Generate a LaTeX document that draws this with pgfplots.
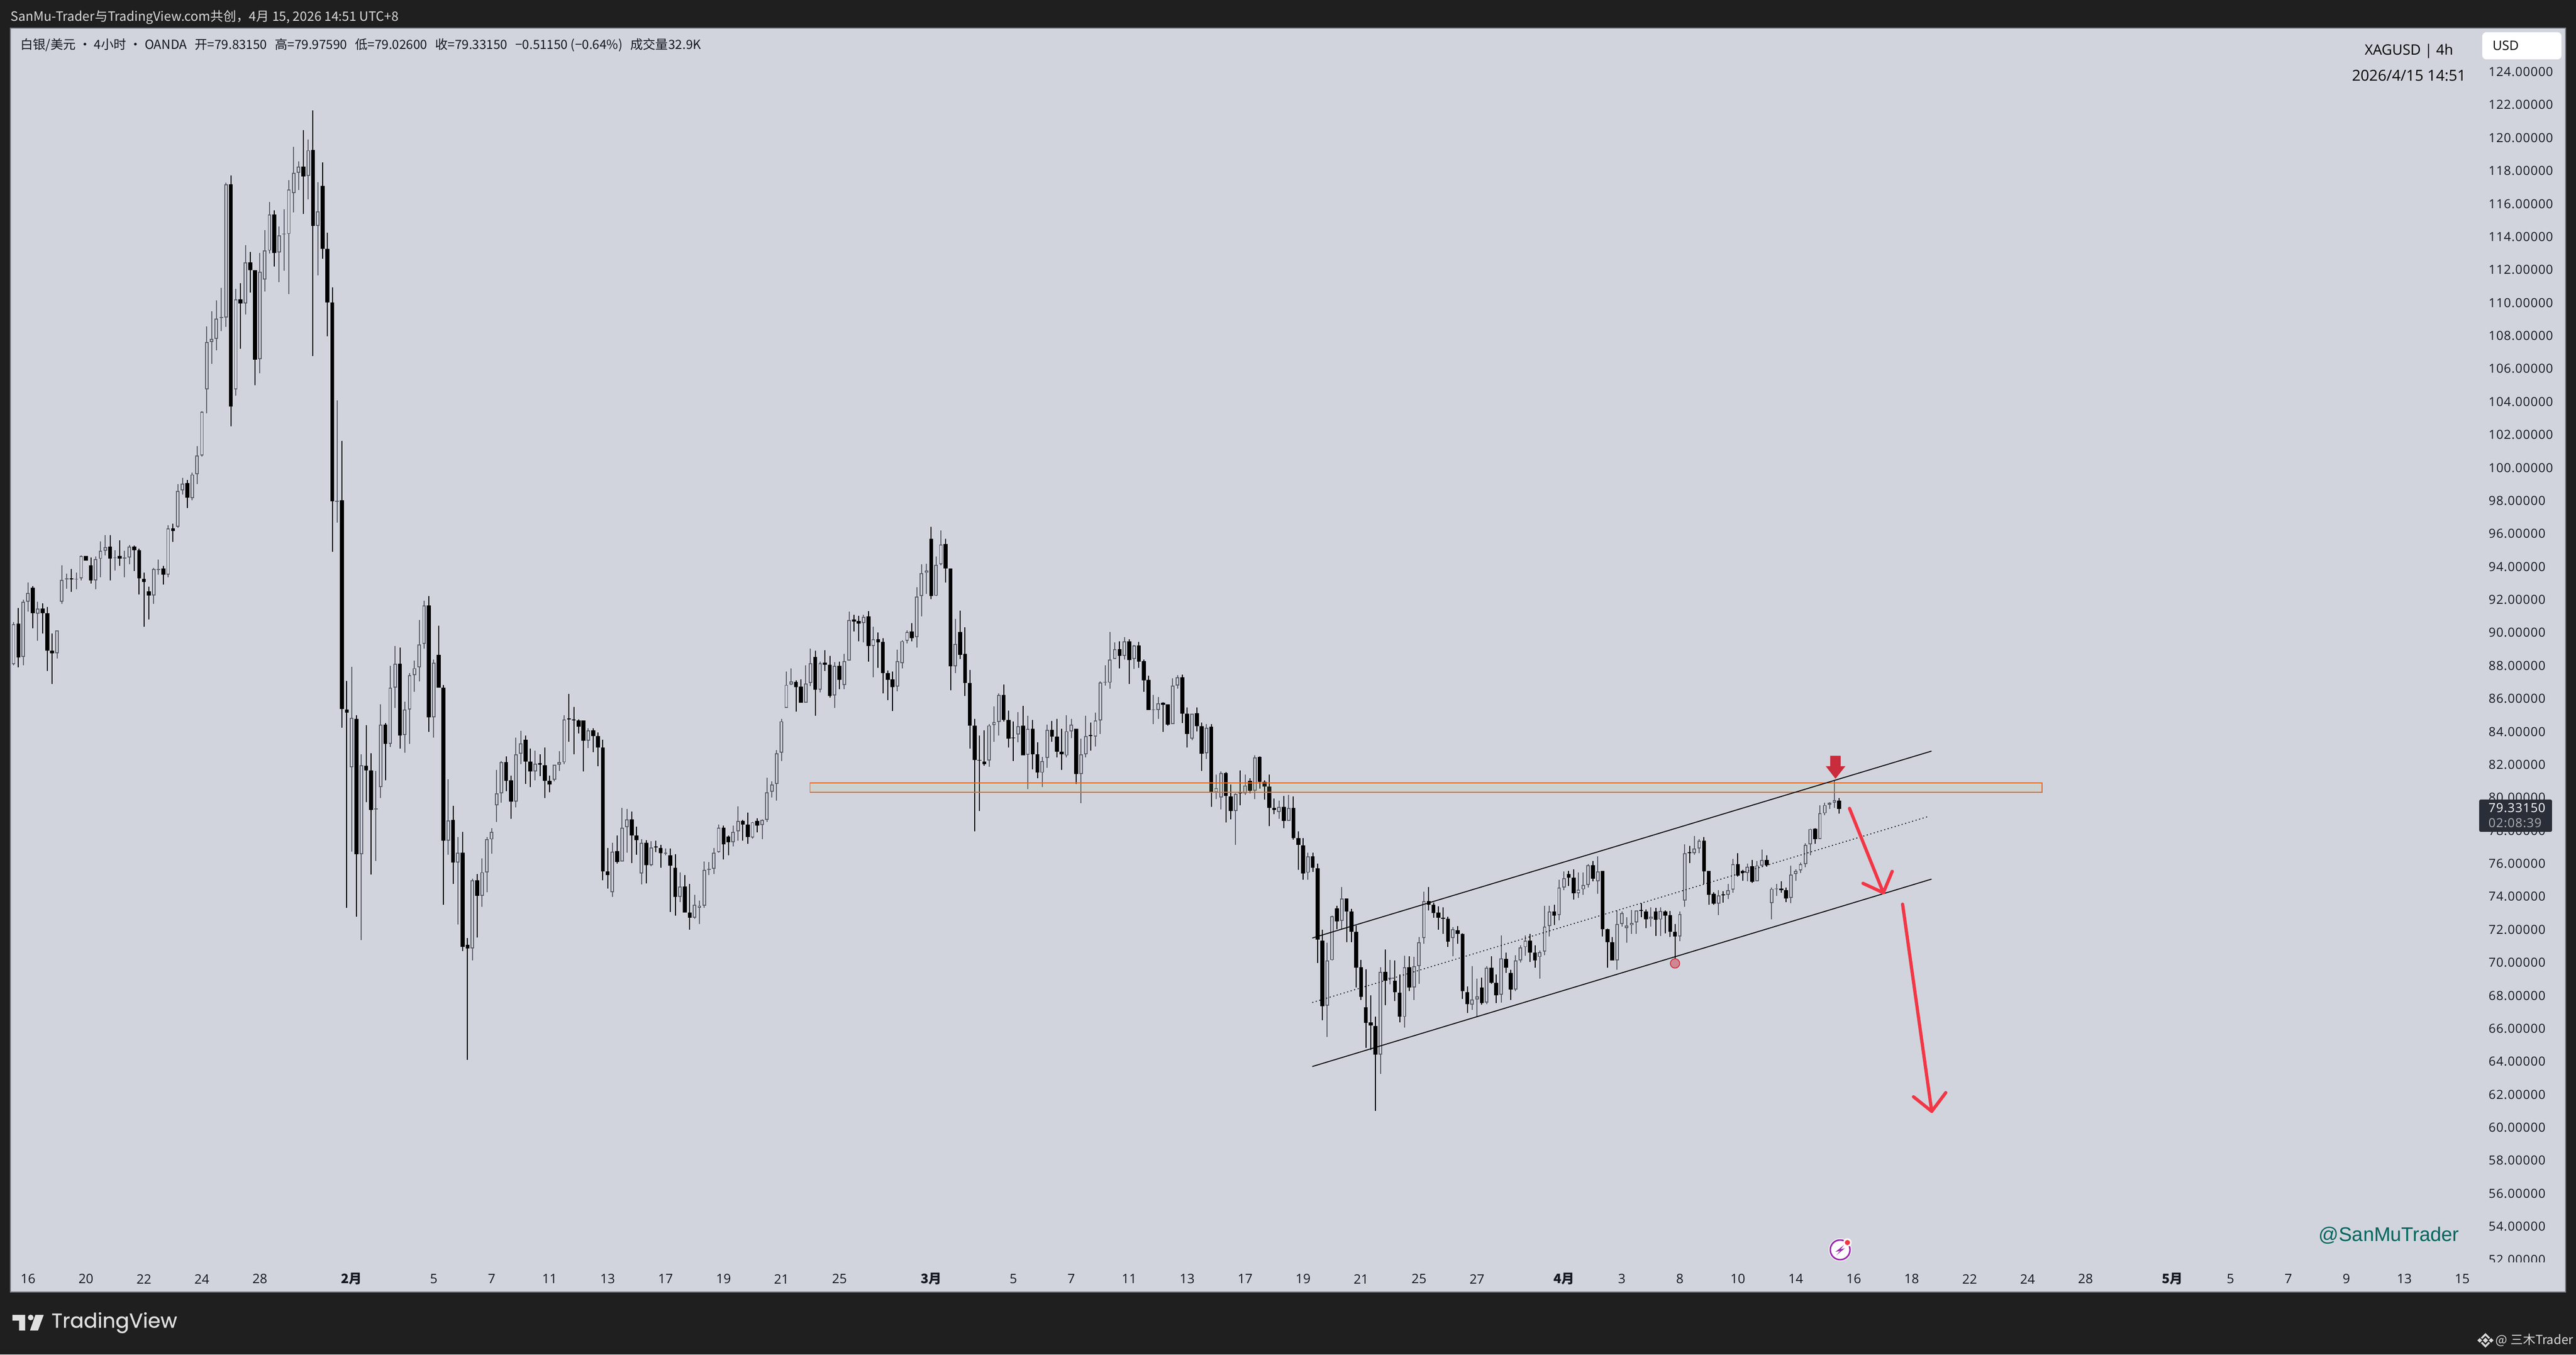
\documentclass[border=0pt]{standalone}
\usepackage{pgfplots}
\usepackage{pgfplotstable}
\usepackage{fontspec}
\pgfplotsset{compat=1.18}
\setmainfont{Open Sans}
\newfontfamily\cjk{Noto Sans CJK SC}
\newfontfamily\tvnum[LetterSpace=4]{Open Sans}
\newfontfamily\lib{Liberation Sans}
\newfontfamily\pop[FakeBold=0.5]{Poppins}
\definecolor{dark}{HTML}{1F1F1F}
\definecolor{pane}{HTML}{D1D4DC}
\definecolor{frame}{HTML}{787B86}
\definecolor{hollow}{HTML}{5D606B}
\definecolor{ink}{HTML}{131722}
\definecolor{zoneb}{HTML}{E2692C}
\definecolor{zonef}{HTML}{A9CD8C}
\definecolor{arrowred}{HTML}{F23645}
\definecolor{bigred}{HTML}{C92C3C}
\definecolor{teal}{HTML}{00665F}
\definecolor{boxc}{HTML}{2A2E39}
\definecolor{lbl}{HTML}{D9D9D9}
\pgfplotstableread{
x d t b h l
0 0 90.52 88.08 90.64 88.03
1 1 90.54 88.51 91.51 87.91
2 0 91.87 88.54 91.99 88.01
3 0 92.40 91.87 93.03 91.29
4 1 92.74 91.19 92.81 90.27
5 0 91.46 91.14 91.89 89.50
6 1 91.46 91.19 91.77 89.96
7 1 91.19 88.92 91.56 87.69
8 1 88.90 88.75 89.94 86.90
9 0 90.13 88.75 90.15 88.44
10 0 93.20 91.89 94.09 91.75
11 0 93.29 93.24 93.58 92.66
12 1 93.29 93.24 93.87 92.47
13 0 93.27 93.22 93.65 92.64
14 0 94.65 93.29 94.67 93.17
15 1 94.65 94.38 94.65 94.38
16 1 94.09 93.17 94.55 92.98
17 0 94.45 93.17 94.62 92.64
18 0 94.96 94.48 95.54 93.37
19 0 95.20 94.96 95.90 94.69
20 1 95.23 94.50 95.90 93.17
21 0 94.57 94.52 95.01 93.78
22 1 94.65 94.48 95.59 94.04
23 0 94.55 94.48 94.98 93.37
24 0 95.23 94.57 95.32 94.16
25 1 95.23 95.01 95.27 93.75
26 1 95.01 93.29 95.10 92.33
27 1 93.27 93.08 93.65 90.35
28 1 92.52 92.26 92.79 90.81
29 0 93.85 92.26 93.94 91.75
30 0 93.87 93.80 94.43 93.53
31 1 93.90 93.53 94.04 92.91
32 0 96.31 93.53 96.50 93.37
33 1 96.31 96.17 96.60 95.51
34 0 98.60 96.43 99.02 96.36
35 0 99.04 98.63 99.38 98.36
36 1 99.06 98.19 99.26 97.57
37 0 99.59 98.17 99.69 98.02
38 0 100.75 99.62 101.31 99.02
39 0 103.39 100.75 103.43 100.68
40 0 107.61 104.76 108.58 103.31
41 0 107.80 107.61 109.49 106.31
42 0 109.03 107.80 110.14 107.13
43 0 109.13 109.08 110.89 108.29
44 0 117.17 109.11 117.29 108.55
45 1 117.17 103.72 117.73 102.52
46 0 110.22 104.76 110.84 104.37
47 1 110.22 109.95 111.18 107.22
48 0 112.46 109.97 113.50 109.28
49 1 112.46 111.98 113.09 110.63
50 1 111.98 106.54 111.98 105.00
51 0 111.88 106.57 113.02 105.73
52 0 113.16 111.40 114.42 110.68
53 0 115.34 113.16 116.11 112.99
54 1 115.34 113.02 115.60 112.20
55 0 114.10 113.04 114.64 111.25
56 0 114.20 114.15 115.67 111.95
57 0 116.86 114.17 117.44 110.53
58 0 117.89 116.66 119.46 115.48
59 0 118.26 117.89 118.57 116.83
60 1 118.26 117.65 120.45 115.38
61 0 119.25 117.68 119.90 116.28
62 1 119.27 114.66 121.66 106.77
63 0 115.55 114.66 117.31 111.67
64 1 117.10 113.26 118.52 112.68
65 1 113.26 110.02 114.25 107.97
66 1 110.02 97.97 110.94 94.89
67 0 98.00 97.93 104.08 96.67
68 1 98.02 85.37 101.62 84.24
69 1 85.35 85.15 87.08 73.33
70 0 84.84 81.83 87.94 76.72
71 1 84.78 76.58 84.98 72.77
72 0 81.96 76.58 82.63 71.36
73 1 81.94 81.65 84.40 79.73
74 1 81.65 79.26 82.69 75.34
75 0 79.35 79.28 81.61 76.16
76 0 84.44 80.64 85.66 79.97
77 1 84.44 83.25 84.51 81.06
78 0 86.68 83.25 87.99 83.07
79 0 88.12 86.68 89.18 85.44
80 1 88.12 83.78 89.09 82.98
81 0 85.33 83.80 85.82 82.72
82 0 87.41 85.33 87.54 83.25
83 0 87.85 87.43 88.32 86.41
84 0 89.29 87.90 90.78 87.06
85 0 91.64 89.32 91.93 89.03
86 1 91.66 84.86 92.22 83.98
87 0 88.19 84.86 88.36 83.65
88 1 88.67 86.68 90.42 86.68
89 1 86.68 77.38 86.84 73.50
90 0 78.62 77.38 81.12 76.54
91 1 78.64 76.05 79.51 74.77
92 0 76.65 76.07 77.60 72.31
93 1 76.65 70.94 77.93 70.69
94 1 71.09 70.87 71.49 64.09
95 0 74.99 70.87 75.10 70.12
96 1 74.99 74.06 75.37 71.51
97 0 75.48 74.06 76.32 73.37
98 0 77.47 75.48 77.60 74.26
99 0 77.93 77.47 78.16 76.61
100 0 80.26 79.53 81.68 78.53
101 0 82.14 80.26 82.23 79.68
102 1 82.14 81.01 82.50 80.39
103 1 81.06 79.77 81.34 78.71
104 0 82.63 79.77 83.65 79.42
105 0 83.29 82.65 84.05 82.03
106 1 83.51 82.19 83.78 80.83
107 1 82.19 81.59 82.98 80.64
108 0 82.07 81.59 82.85 81.06
109 1 82.10 81.99 82.63 81.30
110 1 81.96 81.01 83.05 79.97
111 1 81.01 80.79 81.34 80.33
112 0 82.01 81.08 82.01 80.99
113 0 82.14 82.01 82.83 81.61
114 0 84.75 82.14 84.98 82.03
115 1 84.80 84.73 86.30 83.38
116 1 84.73 84.69 85.51 82.63
117 1 84.69 84.31 84.75 83.89
118 1 84.69 83.45 84.69 81.59
119 0 84.07 83.45 84.22 83.00
120 1 84.09 83.74 84.22 82.76
121 1 83.74 83.05 83.96 81.90
122 1 83.05 75.52 83.51 74.99
123 1 75.54 75.30 76.94 74.48
124 0 76.74 74.28 77.27 73.99
125 1 76.76 76.10 77.71 76.01
126 0 78.18 76.12 79.37 76.12
127 0 78.69 78.20 79.31 76.65
128 1 78.69 77.71 79.15 76.03
129 1 77.71 77.42 78.24 76.54
130 0 77.27 75.39 77.47 74.75
131 1 77.27 75.92 77.42 74.79
132 0 76.98 75.92 77.36 75.85
133 1 77.05 76.98 77.38 76.69
134 1 76.96 76.63 77.14 75.76
135 0 76.65 76.61 76.92 76.50
136 1 76.50 75.87 76.92 73.06
137 1 75.76 73.97 76.56 72.84
138 0 74.61 73.97 75.48 73.68
139 1 74.61 73.02 75.30 73.02
140 1 73.02 72.73 74.77 72.00
141 0 73.50 72.73 74.10 72.66
142 0 73.46 73.33 73.77 72.33
143 0 75.61 73.46 76.14 73.33
144 0 75.70 75.61 76.10 75.32
145 0 76.65 75.70 76.94 75.37
146 0 78.18 76.69 78.36 76.65
147 1 78.18 77.18 78.31 76.27
148 1 77.65 77.29 77.71 76.50
149 0 77.93 77.29 78.31 77.05
150 0 78.58 77.96 79.48 77.38
151 1 78.60 78.36 78.64 77.38
152 1 78.36 77.60 79.11 77.20
153 0 78.51 77.58 78.53 77.51
154 1 78.58 78.31 78.75 77.91
155 0 78.64 78.33 78.69 77.49
156 0 80.33 78.64 81.21 78.53
157 0 80.79 80.35 80.99 80.02
158 0 82.69 80.83 82.89 79.82
159 0 84.63 82.73 84.79 82.22
160 0 86.84 85.43 87.66 85.43
161 0 87.04 86.86 87.82 86.82
162 1 87.02 86.71 87.11 85.21
163 1 86.73 85.74 87.18 85.74
164 0 86.91 85.75 88.04 85.74
165 0 88.16 86.95 89.05 86.75
166 1 88.54 86.53 88.91 84.96
167 0 88.16 86.55 88.25 86.37
168 1 88.18 88.05 88.94 87.67
169 1 88.05 86.17 88.58 86.08
170 0 87.98 86.21 88.22 85.43
171 1 87.98 87.15 88.25 86.57
172 0 88.29 86.84 88.72 86.57
173 0 90.77 88.31 91.28 88.31
174 1 90.81 90.68 91.10 90.08
175 1 90.72 90.55 91.03 89.49
176 0 90.97 90.59 91.08 89.41
177 1 90.99 89.20 91.31 88.24
178 0 89.59 89.20 90.35 87.29
179 1 89.61 89.41 90.01 87.87
180 1 89.45 87.55 89.68 86.31
181 1 87.55 87.15 87.71 85.92
182 1 87.18 86.70 87.66 85.25
183 0 88.29 86.73 88.98 86.46
184 0 89.49 88.14 89.54 87.85
185 0 90.05 89.52 90.14 89.34
186 1 90.07 89.68 90.59 89.49
187 0 92.20 89.72 92.76 89.10
188 0 93.62 92.22 94.16 90.99
189 0 93.78 93.63 94.18 92.35
190 1 95.70 92.22 96.42 92.04
191 0 94.12 92.24 94.61 92.22
192 0 95.35 94.14 96.19 94.09
193 1 95.37 93.89 95.70 93.05
194 1 93.91 87.95 93.91 86.51
195 0 89.32 87.95 90.83 87.55
196 1 90.03 88.65 91.35 88.40
197 1 88.72 86.95 90.32 86.17
198 1 86.95 84.36 87.75 82.98
199 1 84.36 82.27 84.77 77.96
200 1 82.27 82.24 83.76 79.20
201 1 82.18 82.04 84.09 81.93
202 0 84.38 82.26 84.47 81.86
203 0 84.58 84.39 85.52 83.38
204 0 86.22 84.58 86.33 83.76
205 1 86.22 84.72 86.86 84.61
206 1 84.72 83.58 85.28 83.04
207 1 83.65 83.60 84.61 82.22
208 0 84.32 83.83 85.19 83.34
209 1 84.36 82.58 85.57 82.58
210 0 84.16 82.60 84.97 80.52
211 1 84.18 82.62 84.72 81.71
212 1 82.64 81.51 83.34 81.17
213 0 82.22 81.51 82.47 80.64
214 0 84.10 82.42 84.43 81.80
215 1 84.12 83.69 84.65 83.38
216 1 83.69 82.80 84.77 82.44
217 1 82.80 82.62 84.18 81.68
218 0 84.03 82.55 84.99 82.44
219 0 84.43 84.03 84.76 83.62
220 1 84.16 81.44 84.18 80.83
221 0 82.62 81.44 83.58 79.67
222 0 83.74 82.62 84.97 82.44
223 1 83.80 83.74 84.56 82.84
224 0 84.67 83.71 85.16 83.11
225 0 86.97 84.68 87.04 83.87
226 0 87.00 86.97 88.04 86.79
227 0 88.38 86.97 90.03 86.60
228 0 89.01 88.40 89.41 88.40
229 1 89.01 88.60 89.49 87.84
230 0 89.47 88.60 89.72 88.36
231 1 89.47 88.33 89.61 86.89
232 0 89.23 88.40 89.27 87.80
233 1 89.23 88.24 89.45 87.87
234 1 88.27 87.11 88.38 86.42
235 1 87.15 85.30 87.40 85.30
236 0 85.34 85.30 86.22 84.47
237 0 85.72 85.30 86.10 84.79
238 1 85.75 85.63 85.77 84.00
239 1 85.66 84.43 85.66 84.36
240 0 86.79 84.45 87.24 84.45
241 0 87.31 86.79 87.42 86.60
242 1 87.31 85.10 87.46 84.52
243 1 85.10 83.85 85.46 83.04
244 0 85.10 83.58 85.10 83.49
245 1 85.12 84.34 85.46 84.01
246 1 84.34 82.67 84.56 81.62
247 0 84.25 82.69 84.47 82.35
248 1 84.29 80.32 84.47 79.45
249 0 80.59 80.32 81.39 79.90
250 0 81.48 80.01 81.59 79.29
251 1 81.48 80.10 81.55 78.49
252 1 80.08 79.18 80.81 78.69
253 0 80.23 79.20 80.26 77.13
254 1 80.30 80.25 81.66 79.54
255 0 80.74 80.26 81.41 80.16
256 1 81.01 80.41 81.17 80.26
257 0 82.44 80.43 82.56 79.90
258 1 82.46 80.97 82.49 80.55
259 1 80.97 80.68 81.04 79.87
260 1 80.66 79.39 81.41 78.27
261 1 79.39 79.25 79.96 79.00
262 0 79.43 79.14 79.83 78.72
263 1 79.43 78.58 80.10 78.14
264 0 79.38 78.60 80.17 78.58
265 1 79.39 77.55 80.08 77.46
266 1 77.55 77.13 77.95 75.61
267 1 77.12 75.41 77.54 75.02
268 0 76.43 75.45 76.67 75.02
269 1 76.43 75.75 76.67 75.51
270 1 75.73 71.38 76.01 69.99
271 1 71.34 67.36 71.98 66.51
272 0 70.13 67.38 71.20 65.50
273 0 72.81 70.15 72.85 70.13
274 1 73.29 72.51 73.45 72.01
275 0 73.88 72.53 74.58 72.01
276 1 73.90 73.11 73.90 71.24
277 1 73.11 71.88 73.27 71.24
278 1 71.88 69.69 72.25 68.48
279 1 69.73 67.92 70.17 67.72
280 1 67.28 66.35 69.59 64.84
281 1 66.37 66.19 68.02 64.70
282 1 66.17 64.42 66.71 61.02
283 0 69.43 64.42 69.73 63.25
284 1 69.43 68.89 70.80 67.42
285 0 69.09 68.99 70.17 68.68
286 1 68.91 68.20 70.13 67.66
287 1 68.18 66.71 69.29 66.39
288 0 69.73 66.71 70.42 66.05
289 1 69.73 68.48 70.38 68.28
290 0 69.79 68.48 70.34 67.72
291 0 71.24 69.79 71.54 68.72
292 0 73.72 71.50 74.30 71.14
293 1 73.72 73.51 74.58 73.15
294 1 73.51 73.01 73.62 72.71
295 1 73.05 72.73 73.43 71.98
296 1 72.73 72.67 73.35 71.74
297 1 72.65 71.28 72.79 70.94
298 0 72.01 71.48 72.15 70.40
299 1 71.95 71.74 72.21 71.14
300 1 71.74 68.26 71.78 67.80
301 1 68.22 67.48 68.56 66.95
302 0 67.76 67.46 69.77 67.12
303 0 67.94 67.78 69.03 66.71
304 1 68.50 67.56 69.09 67.44
305 0 69.69 67.58 69.77 67.48
306 1 69.69 68.76 70.38 68.72
307 1 68.76 68.02 69.29 67.56
308 0 70.27 68.04 71.64 67.58
309 1 70.23 69.69 70.60 69.37
310 1 69.39 68.36 69.57 67.72
311 0 70.13 68.36 70.44 68.28
312 0 70.92 70.13 71.04 70.01
313 0 71.34 70.94 71.64 70.42
314 1 71.34 70.60 71.74 70.05
315 1 70.60 70.13 71.04 69.69
316 0 70.64 70.34 70.74 69.03
317 0 72.19 70.66 73.45 70.46
318 0 73.09 72.21 73.45 71.58
319 1 73.11 72.85 73.51 72.29
320 0 74.56 72.89 75.02 72.55
321 0 75.12 74.56 75.53 74.40
322 1 75.37 75.14 75.57 74.66
323 1 75.14 74.20 75.67 73.82
324 0 74.42 74.20 75.45 73.92
325 0 74.70 74.44 75.47 74.10
326 0 75.91 74.70 75.97 74.56
327 1 75.91 75.08 76.17 74.92
328 0 75.53 74.92 76.45 74.16
329 1 75.57 72.03 75.57 71.58
330 1 72.01 71.24 72.05 69.69
331 1 71.24 70.13 71.54 70.13
332 0 72.35 70.13 73.15 69.57
333 0 72.99 72.35 73.09 72.19
334 0 72.25 72.09 72.75 71.20
335 0 72.41 72.27 73.19 71.74
336 0 73.15 72.45 73.15 71.74
337 1 73.19 73.13 73.60 72.75
338 1 73.11 72.63 73.23 72.09
339 0 72.79 72.65 73.35 72.19
340 1 73.11 72.59 73.31 71.62
341 0 73.13 72.61 73.35 71.60
342 1 73.11 72.85 73.15 71.78
343 1 72.89 71.88 73.13 71.54
344 1 71.88 71.58 72.33 70.13
345 0 72.95 71.58 73.11 71.30
346 0 76.63 73.76 77.18 73.39
347 1 76.69 76.63 77.06 76.03
348 0 76.92 76.63 77.68 76.53
349 0 77.40 76.92 77.48 76.63
350 1 77.40 75.53 77.62 74.76
351 1 75.55 74.10 75.55 73.51
352 1 74.16 73.56 74.26 73.51
353 0 74.08 73.58 74.40 72.89
354 1 74.15 74.08 74.32 73.64
355 0 74.40 74.10 74.77 73.87
356 0 75.96 74.42 76.29 74.24
357 1 75.96 75.29 76.64 75.22
358 1 75.56 75.42 75.61 74.97
359 0 75.82 75.43 76.00 74.92
360 1 75.84 74.90 76.22 74.84
361 0 75.89 74.92 76.17 74.92
362 0 76.21 75.89 76.85 75.77
363 1 76.22 75.92 76.50 75.82
364 0 74.47 73.61 74.55 72.61
365 0 74.50 74.48 74.77 74.03
366 1 74.48 74.38 74.92 74.24
367 1 74.39 73.90 74.56 73.68
368 0 75.35 73.93 75.87 73.59
369 0 75.56 75.37 75.64 74.95
370 0 75.96 75.59 76.08 75.42
371 0 77.15 75.98 77.22 75.77
372 0 78.10 77.16 78.13 76.52
373 1 78.11 77.50 78.14 77.19
374 0 79.05 77.50 79.55 77.47
375 0 79.55 79.05 79.68 78.95
376 0 79.70 79.58 79.74 79.32
377 0 79.84 79.69 81.05 79.38
378 1 79.83 79.33 79.98 79.03
}\candles
\begin{document}
\begin{tikzpicture}
\fill[dark] (0,0) rectangle (990pt,520.4pt);
\begin{axis}[
  at={(4pt,24pt)}, anchor=south west,
  width=982pt, height=485.6pt, scale only axis,
  xmin=-0.65, xmax=528.4, ymin=50.03, ymax=126.65,
  axis background/.style={fill=pane},
  axis line style={draw=frame,line width=0.4pt},
  major tick length=0pt,
  ytick={52,54,...,124},
  xtick={3,15,27,39,51,70,87,99,111,123,135,147,159,171,190,207,219,231,243,255,267,279,291,303,321,333,345,357,369,381,393,405,417,429,447,459,471,483,495,507},
  xticklabels={16,20,22,24,28,\textbf{\cjk 2月},5,7,11,13,17,19,21,25,\textbf{\cjk 3月},5,7,11,13,17,19,21,25,27,\textbf{\cjk 4月},3,8,10,14,16,18,22,24,28,\textbf{\cjk 5月},5,7,9,13,15},
  yticklabel pos=right,
  yticklabel style={anchor=west,xshift=-29.8pt,inner sep=0pt,text=ink,font=\tvnum\fontsize{4.8}{5.8}\selectfont,
    /pgf/number format/.cd,fixed,fixed zerofill,precision=5,assume math mode=true,1000 sep={}},
  xticklabel style={anchor=center,yshift=5pt,inner sep=0pt,text=ink,font=\fontsize{5}{6}\selectfont},
  xticklabel pos=lower,
  candle/.style={draw=none,no markers,forget plot,error bars/.cd,y dir=plus,y explicit,error mark=none},
]
% gray wicks, gray bodies, hollow interior
\addplot[candle,error bar style={draw=hollow,line width=0.4pt}]
  table[x=x,y expr=\thisrow{l},y error plus expr=\thisrow{h}-\thisrow{l},restrict expr to domain={\thisrow{d}}{0:0}]{\candles};
\addplot[candle,error bar style={draw=hollow,line width=1.36pt}]
  table[x=x,y expr=\thisrow{b},y error plus expr=\thisrow{t}-\thisrow{b},restrict expr to domain={\thisrow{d}}{0:0}]{\candles};
\addplot[candle,error bar style={draw=pane,line width=0.62pt}]
  table[x=x,y expr=\thisrow{b}+0.06,y error plus expr={max(\thisrow{t}-\thisrow{b}-0.12,0)},restrict expr to domain={\thisrow{d}}{0:0}]{\candles};
% black wicks and bodies
\addplot[candle,error bar style={draw=black,line width=0.4pt}]
  table[x=x,y expr=\thisrow{l},y error plus expr=\thisrow{h}-\thisrow{l},restrict expr to domain={\thisrow{d}}{1:1}]{\candles};
\addplot[candle,error bar style={draw=black,line width=1.52pt}]
  table[x=x,y expr=\thisrow{b},y error plus expr=\thisrow{t}-\thisrow{b},restrict expr to domain={\thisrow{d}}{1:1}]{\candles};
% resistance zone
\addplot[draw=zoneb,line width=0.36pt,fill=zonef,fill opacity=0.15,forget plot] coordinates {(164.9,80.33)(420,80.33)(420,80.90)(164.9,80.90)} --cycle;
% channel
\addplot[black,line width=0.36pt,forget plot] coordinates {(268.9,71.49)(397.1,82.82)};
\addplot[black,line width=0.36pt,forget plot] coordinates {(268.9,63.70)(397.1,75.06)};
\addplot[black,line width=0.34pt,dash pattern=on 0.4pt off 1pt,forget plot] coordinates {(268.9,67.58)(396.7,78.88)};
% swing-low marker
\addplot[only marks,mark=*,mark size=1.8pt,mark options={draw=bigred,fill=bigred!45!pane,line width=0.3pt},forget plot] coordinates {(344,69.95)};
\end{axis}
\begin{scope}[x=0.2pt,y=-0.2pt,shift={(0,520.4pt)}]
  % texts
  \node[anchor=west,inner sep=0,text=lbl,font=\cjk\fontsize{4.95}{5.9}\selectfont] at (20,33) {SanMu-Trader与TradingView.com共创，4月 15, 2026 14:51 UTC+8};
  \node[anchor=west,inner sep=0,text=ink,font=\cjk\fontsize{4.86}{5.8}\selectfont] at (38,87) {白银/美元 · 4小时 · OANDA\hspace{3pt}开=79.83150\hspace{3pt}高=79.97590\hspace{3pt}低=79.02600\hspace{3pt}收=79.33150\hspace{3pt}−0.51150 (−0.64\%)\hspace{3pt}成交量32.9K};
  \node[anchor=center,inner sep=0,text=black,font=\fontsize{5.5}{6.5}\selectfont] at (4629,98) {XAGUSD | 4h};
  \node[anchor=center,inner sep=0,text=black,font=\fontsize{5.8}{6.8}\selectfont] at (4629,145) {2026/4/15 14:51};
  \fill[white,rounded corners=1.5pt] (4770,62) rectangle (4922,114);
  \node[anchor=west,inner sep=0,text=black,font=\fontsize{5}{6}\selectfont] at (4789,88) {USD};
  \fill[pane] (4770,2425) rectangle (4925,2438);
  \fill[boxc,rounded corners=0.6pt] (4764,1536) rectangle (4904,1598);
  \node[anchor=west,inner sep=0,text=white,font=\tvnum\fontsize{4.8}{5.8}\selectfont] at (4781,1552) {79.33150};
  \node[anchor=west,inner sep=0,text=lbl!75!boxc,font=\tvnum\fontsize{4.8}{5.8}\selectfont] at (4781,1581) {02:08:39};
  \node[anchor=west,inner sep=0,text=teal,font=\lib\fontsize{7.6}{9}\selectfont] at (4455,2373) {@SanMuTrader};
  % red arrows
  \fill[bigred] (3517,1452)--(3537,1452)--(3537,1472)--(3546,1472)--(3527,1496)--(3508.5,1472)--(3517,1472)--cycle;
  \draw[arrowred,line width=1.25pt,line cap=round,line join=round] (3554,1553)--(3619,1715);
  \draw[arrowred,line width=1.25pt,line cap=round,line join=round] (3580,1697)--(3619,1715)--(3636,1674);
  \draw[arrowred,line width=1.25pt,line cap=round,line join=round] (3656,1737)--(3712,2135);
  \draw[arrowred,line width=1.25pt,line cap=round,line join=round] (3677,2107)--(3712,2135)--(3739,2099);
  % lightning badge
  \fill[white] (3536,2401) circle[radius=22];
  \draw[color={rgb,255:red,156;green,39;blue,176},line width=0.6pt] (3536,2401) circle[radius=19];
  \fill[color={rgb,255:red,156;green,39;blue,176}] (3543,2392)--(3527,2405)--(3536,2403)--(3529,2411)--(3545,2398)--(3537,2400)--cycle;
  \fill[white] (3550,2387) circle[radius=8];
  \fill[arrowred] (3550,2387) circle[radius=5];
  % TradingView logo
  \fill[white!88!black] (24,2526)--(48.5,2526)--(48.5,2556)--(36.7,2556)--(36.7,2537)--(24,2537)--cycle;
  \fill[white!88!black] (59,2531) circle[radius=5.5];
  \fill[white!88!black] (68,2526)--(84,2526)--(73,2556)--(57.6,2556)--cycle;
  \node[anchor=west,inner sep=0,text=white!88!black,font=\pop\fontsize{7.8}{9}\selectfont] at (98,2541) {TradingView};
  % Binance square mark
  \fill[lbl] (4776,2570)--(4781,2575)--(4776,2580)--(4771,2575)--cycle;
  \fill[lbl] (4765,2570.5)--(4769.5,2575)--(4765,2579.5)--(4760.5,2575)--cycle;
  \fill[lbl] (4787,2570.5)--(4791.5,2575)--(4787,2579.5)--(4782.5,2575)--cycle;
  \fill[lbl] (4776,2561)--(4785,2570)--(4782,2572)--(4776,2566)--(4770,2572)--(4767,2570)--cycle;
  \fill[lbl] (4776,2589)--(4785,2580)--(4782,2578)--(4776,2584)--(4770,2578)--(4767,2580)--cycle;
  \node[anchor=west,inner sep=0,text=lbl,font=\cjk\fontsize{4.8}{5.8}\selectfont] at (4795,2575) {@ 三木Trader};
\end{scope}
\end{tikzpicture}
\end{document}
